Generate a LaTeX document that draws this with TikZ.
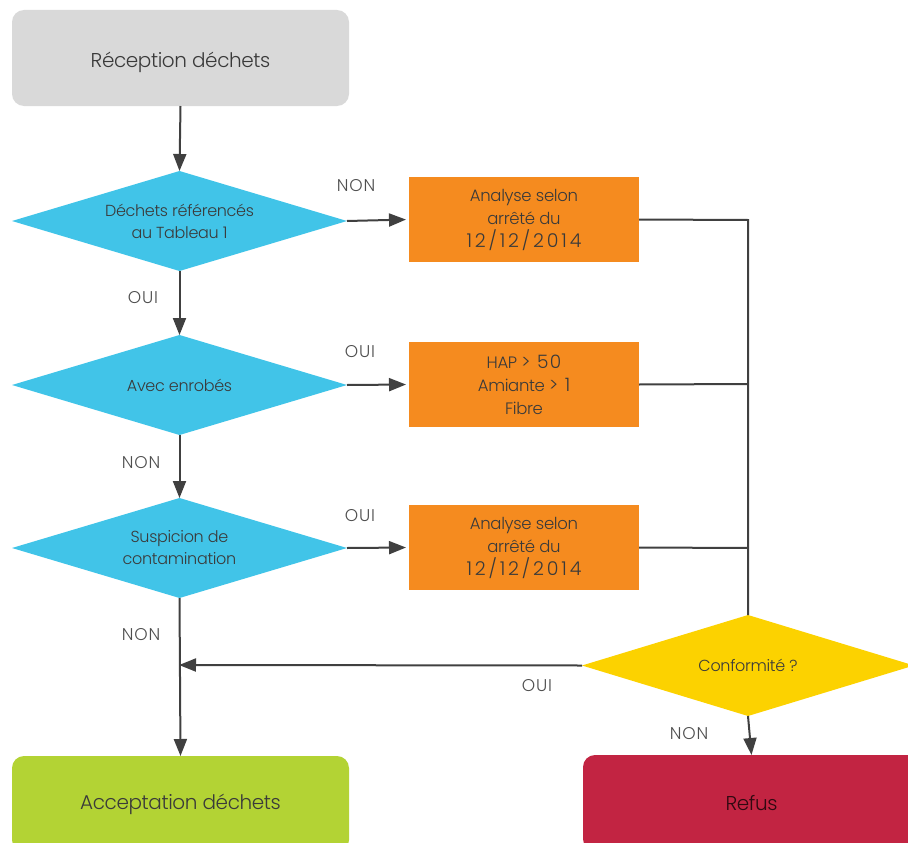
\documentclass[tikz,border=0pt]{standalone}
\usepackage{fontspec}
\setmainfont{Poppins}[UprightFont=* Light]
\usetikzlibrary{shapes.geometric,arrows.meta}
\definecolor{lgray}{HTML}{D9D9D9}
\definecolor{cyanb}{HTML}{41C4E8}
\definecolor{orng}{HTML}{F58B1F}
\definecolor{yel}{HTML}{FCD200}
\definecolor{lime}{HTML}{B3D334}
\definecolor{crim}{HTML}{C22442}
\definecolor{ln}{HTML}{404040}
\definecolor{txt}{HTML}{3A3A3A}
\newcommand{\bignum}[1]{{\fontsize{18.5}{23}\selectfont\addfontfeatures{LetterSpace=8}#1}}
\newcommand{\datetxt}[1]{{\fontsize{19}{23}\selectfont\addfontfeatures{LetterSpace=15}#1}}
\begin{document}
\begin{tikzpicture}[x=1pt,y=-1pt,
  every node/.style={text=txt,font=\fontsize{16}{22}\selectfont\addfontfeatures{LetterSpace=-2}},
  endbox/.style={rounded corners=12pt,minimum width=337pt,minimum height=96pt,inner sep=0,outer sep=0,font=\fontsize{20}{24}\selectfont\addfontfeatures{LetterSpace=-2}},
  decide/.style={diamond,aspect=3.35,minimum width=335pt,minimum height=100pt,inner sep=0,outer sep=0,fill=cyanb,align=center},
  actbox/.style={minimum width=230pt,minimum height=85pt,inner sep=0,outer sep=0,fill=orng,align=center,font=\fontsize{16.5}{23}\selectfont\addfontfeatures{LetterSpace=-2}},
  conn/.style={draw=ln,line width=2pt},
  arr/.style={conn,-{Triangle[length=17pt,width=13pt]}},
  lab/.style={font=\fontsize{17}{20}\selectfont\addfontfeatures{LetterSpace=5},text=txt!90}]
\useasboundingbox (0,0) rectangle (908,843);
\clip (0,0) rectangle (908,843);
\node[endbox,fill=lgray,text height=22pt,text depth=2pt] (rec) at (180.5,58) {Réception déchets};
\node[decide] (d1) at (179.5,221) {Déchets référencés\\au Tableau 1};
\node[decide] (d2) at (179.5,385) {Avec enrobés};
\node[decide] (d3) at (179.5,548) {Suspicion de\\contamination};
\node[actbox] (a1) at (524,219.5) {Analyse selon\\arrêté du\\\datetxt{12/12/2014}};
\node[actbox] (a2) at (524,384.5) {HAP \bignum{> 50}\\Amiante \bignum{> 1}\\Fibre};
\node[actbox] (a3) at (524,547.5) {Analyse selon\\arrêté du\\\datetxt{12/12/2014}};
\node[diamond,aspect=3.3,minimum width=332pt,minimum height=101pt,inner sep=0,outer sep=0,fill=yel] (conf) at (748,665.5) {Conformité ?};
\node[endbox,fill=lime] (acc) at (180.5,804) {Acceptation déchets};
\node[endbox,fill=crim,text=black!75!crim] (ref) at (751.5,803) {Refus};
\coordinate (j1) at (748,220);
\coordinate (j2) at (748,384);
\coordinate (j3) at (748,548);
\coordinate (m) at (179,665);
% connectors
\draw[arr] (rec.south) -- (d1.north);
\draw[arr] (d1.south) -- (d2.north);
\draw[arr] (d2.south) -- (d3.north);
\draw[arr] (d3.south) -- (acc.north);
\draw[arr,shorten >=3pt] (d1.east) -- (a1.west);
\draw[arr,shorten >=3pt] (d2.east) -- (a2.west);
\draw[arr,shorten >=3pt] (d3.east) -- (a3.west);
\draw[conn] (a1.east) -- (j1) -- (conf.north);
\draw[conn] (a2.east) -- (j2);
\draw[conn] (a3.east) -- (j3);
\draw[arr] (conf.west) -- (m);
\draw[arr] (conf.south) -- (ref.north);
% labels
\node[lab] (l1) at (356,186) {NON};
\node[lab] (l2) at (143,298) {OUI};
\node[lab] (l3) at (360,352) {OUI};
\node[lab] (l4) at (141,463) {NON};
\node[lab] (l5) at (360,516) {OUI};
\node[lab] (l6) at (141,635) {NON};
\node[lab] (l7) at (537,686) {OUI};
\node[lab] (l8) at (689,734) {NON};
\end{tikzpicture}
\end{document}
